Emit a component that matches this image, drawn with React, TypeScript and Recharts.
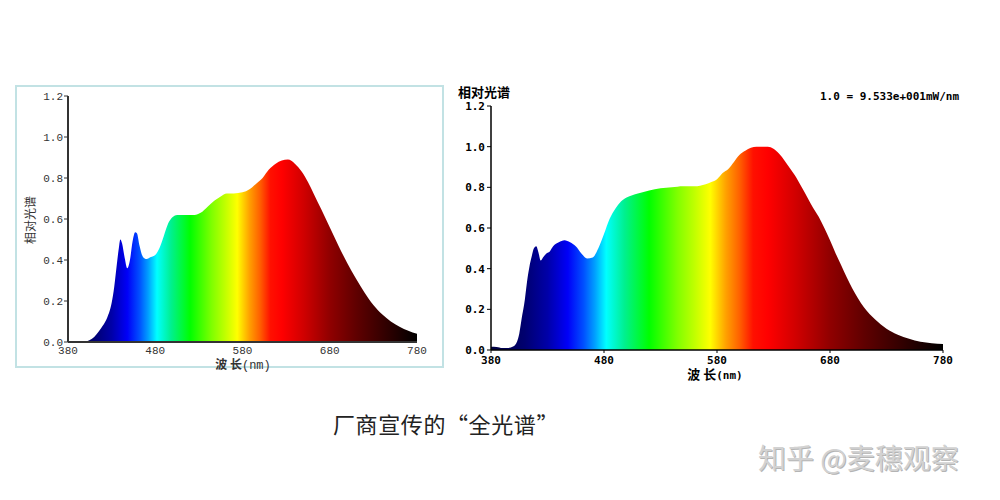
import React from 'react';
import { AreaChart, Area, XAxis, YAxis } from 'recharts';

// 左图：厂商宣传光谱
const leftNm = [380, 390, 400, 405, 410, 415, 420, 425, 430, 433, 436, 438, 440, 442, 445, 448, 451, 454, 457, 459, 462, 466, 470, 475, 480, 485, 490, 495, 500, 505, 515, 525, 532, 540, 548, 555, 562, 570, 580, 588, 595, 603, 610, 618, 625, 632, 640, 648, 655, 662, 670, 680, 690, 700, 710, 720, 730, 740, 750, 760, 770, 780];
const leftVal = [0, 0, 0.003, 0.01, 0.025, 0.05, 0.08, 0.12, 0.19, 0.27, 0.38, 0.45, 0.5, 0.48, 0.41, 0.36, 0.4, 0.49, 0.535, 0.53, 0.47, 0.415, 0.405, 0.415, 0.425, 0.46, 0.52, 0.58, 0.61, 0.62, 0.62, 0.62, 0.63, 0.66, 0.69, 0.71, 0.725, 0.725, 0.73, 0.745, 0.77, 0.8, 0.84, 0.87, 0.885, 0.89, 0.87, 0.83, 0.78, 0.72, 0.65, 0.56, 0.47, 0.385, 0.31, 0.24, 0.18, 0.135, 0.1, 0.075, 0.055, 0.04];

// 右图：实测光谱
const rightNm = [380, 385, 390, 395, 400, 403, 405, 407, 410, 412, 414, 416, 418, 420, 422, 424, 426, 429, 432, 435, 440, 445, 450, 455, 460, 465, 470, 475, 480, 485, 490, 495, 500, 510, 520, 530, 540, 550, 560, 570, 575, 580, 585, 590, 595, 600, 605, 610, 615, 620, 625, 630, 635, 640, 645, 650, 655, 660, 665, 670, 675, 680, 685, 690, 695, 700, 710, 720, 730, 740, 750, 760, 770, 780];
const rightVal = [0.016, 0.015, 0.01, 0.01, 0.018, 0.04, 0.08, 0.15, 0.25, 0.34, 0.41, 0.46, 0.5, 0.51, 0.48, 0.44, 0.455, 0.475, 0.485, 0.51, 0.53, 0.54, 0.53, 0.51, 0.475, 0.45, 0.455, 0.5, 0.57, 0.645, 0.695, 0.73, 0.75, 0.77, 0.785, 0.795, 0.8, 0.805, 0.805, 0.815, 0.826, 0.84, 0.87, 0.89, 0.925, 0.96, 0.98, 0.995, 1.0, 1.0, 1.0, 0.99, 0.965, 0.93, 0.89, 0.85, 0.8, 0.75, 0.7, 0.655, 0.6, 0.54, 0.475, 0.415, 0.355, 0.3, 0.21, 0.15, 0.105, 0.075, 0.055, 0.04, 0.033, 0.03];

const xTicks = [380, 480, 580, 680, 780];
const yTicks = [0, 0.2, 0.4, 0.6, 0.8, 1.0, 1.2];

// 光谱渐变色 [波长, 颜色]
const spectrumStops: [number, string][] = [
  [380, '#000040'], [410, '#000070'], [430, '#0000a8'], [448, '#0000f8'],
  [462, '#0050ff'], [472, '#00a0ff'], [482, '#00ffff'], [498, '#00f090'],
  [520, '#00ff00'], [545, '#80ff00'], [560, '#c0ff00'], [574, '#ffff00'],
  [588, '#ffa000'], [600, '#ff6000'], [612, '#ff1000'], [625, '#ff0000'],
  [650, '#d00000'], [680, '#900000'], [710, '#600000'], [745, '#300000'],
  [780, '#000000']
];

const toRows = (nm: number[], val: number[]) => nm.map((w, i) => ({ nm: w, v: val[i] }));

function SpectrumGradient({ id }: { id: string }) {
  return <defs>
      <linearGradient id={id} x1="0" y1="0" x2="1" y2="0">
        {spectrumStops.map(([w, c]) => <stop key={w} offset={(w - 380) / 400} stopColor={c} />)}
      </linearGradient>
    </defs>;
}

const cjk = '"Noto Sans CJK SC", sans-serif';

function LeftChart() {
  const tickStyle = { fontFamily: '"Liberation Mono", monospace', fontSize: 11, fill: '#333' };
  return <div style={{ position: 'absolute', left: 15, top: 85, width: 429, height: 283, border: '2px solid #c2e2e4', boxSizing: 'border-box' }}>
      <div style={{ position: 'absolute', left: -2, top: -2 }}>
        <AreaChart width={429} height={283} data={toRows(leftNm, leftVal)} margin={{ top: 11, right: 27, left: 0, bottom: 0 }}>
          <SpectrumGradient id="gradL" />
          <XAxis type="number" dataKey="nm" domain={[380, 780]} ticks={xTicks} height={26} tickLine={false} tickSize={0} tickMargin={4} axisLine={{ stroke: '#333', strokeWidth: 2 }} tick={tickStyle} />
          <YAxis type="number" domain={[0, 1.2]} ticks={yTicks} width={53} tickSize={4} tickMargin={1} tickFormatter={(t: number) => t.toFixed(1)} axisLine={{ stroke: '#333', strokeWidth: 2 }} tickLine={{ stroke: '#333' }} tick={tickStyle} />
          <Area type="monotone" dataKey="v" stroke="none" fill="url(#gradL)" fillOpacity={1} isAnimationActive={false} />
        </AreaChart>
      </div>
      <div style={{ position: 'absolute', left: -17, top: 126, width: 60, textAlign: 'center', transform: 'rotate(-90deg)', fontFamily: cjk, fontSize: 12, color: '#333', lineHeight: '14px' }}>相对光谱</div>
      <div style={{ position: 'absolute', left: 176, top: 271, width: 100, textAlign: 'center', fontSize: 12, color: '#333', lineHeight: '12px', whiteSpace: 'pre' }}>
        <span style={{ fontFamily: cjk, fontWeight: 700 }}>波 长</span><span style={{ fontFamily: '"Liberation Mono", monospace', fontSize: 12 }}>(nm)</span>
      </div>
    </div>;
}

function RightChart() {
  const tickStyle = { fontFamily: '"DejaVu Sans Mono", monospace', fontSize: 11, fontWeight: 700, fill: '#000' };
  return <div style={{ position: 'absolute', left: 451, top: 85, width: 520, height: 300 }}>
      <AreaChart width={520} height={300} data={toRows(rightNm, rightVal)} margin={{ top: 21, right: 28, left: 0, bottom: 0 }}>
        <SpectrumGradient id="gradR" />
        <XAxis type="number" dataKey="nm" domain={[380, 780]} ticks={xTicks} height={35} tickSize={3} tickMargin={3} axisLine={{ stroke: '#000', strokeWidth: 1.5 }} tickLine={{ stroke: '#000' }} tick={tickStyle} />
        <YAxis type="number" domain={[0, 1.2]} ticks={yTicks} width={40} tickSize={4} tickMargin={2} tickFormatter={(t: number) => t.toFixed(1)} axisLine={{ stroke: '#000', strokeWidth: 1.5 }} tickLine={{ stroke: '#000' }} tick={tickStyle} />
        <Area type="monotone" dataKey="v" stroke="none" fill="url(#gradR)" fillOpacity={1} isAnimationActive={false} />
      </AreaChart>
      <div style={{ position: 'absolute', left: 7, top: 0, fontFamily: cjk, fontWeight: 700, fontSize: 13, lineHeight: '14px', color: '#000' }}>相对光谱</div>
      <div style={{ position: 'absolute', left: 369, top: 5, fontFamily: '"DejaVu Sans Mono", monospace', fontWeight: 700, fontSize: 11, lineHeight: '14px', color: '#000', whiteSpace: 'pre' }}>1.0 = 9.533e+001mW/nm</div>
      <div style={{ position: 'absolute', left: 214, top: 282, width: 100, textAlign: 'center', fontSize: 13, lineHeight: '13px', color: '#000', whiteSpace: 'pre' }}>
        <span style={{ fontFamily: cjk, fontWeight: 700 }}>波 长</span><span style={{ fontFamily: '"DejaVu Sans Mono", monospace', fontWeight: 700, fontSize: 11 }}>(nm)</span>
      </div>
    </div>;
}

export default function App() {
  return <div style={{ position: 'absolute', left: 0, top: 0, width: 1000, height: 500, background: '#fff', overflow: 'hidden' }}>
      <LeftChart />
      <RightChart />
      <div style={{ position: 'absolute', left: 333, top: 411, fontFamily: cjk, fontSize: 22, lineHeight: '24px', color: '#222', letterSpacing: 0.6, whiteSpace: 'pre' }}>厂商宣传的“全光谱”</div>
      <div style={{ position: 'absolute', left: 758, top: 441, fontFamily: cjk, fontSize: 28, lineHeight: '32px', color: '#d2d2d2', textShadow: '1px 1px 0 #b4b4b4', whiteSpace: 'pre' }}>知乎 @麦穗观察</div>
    </div>;
}
